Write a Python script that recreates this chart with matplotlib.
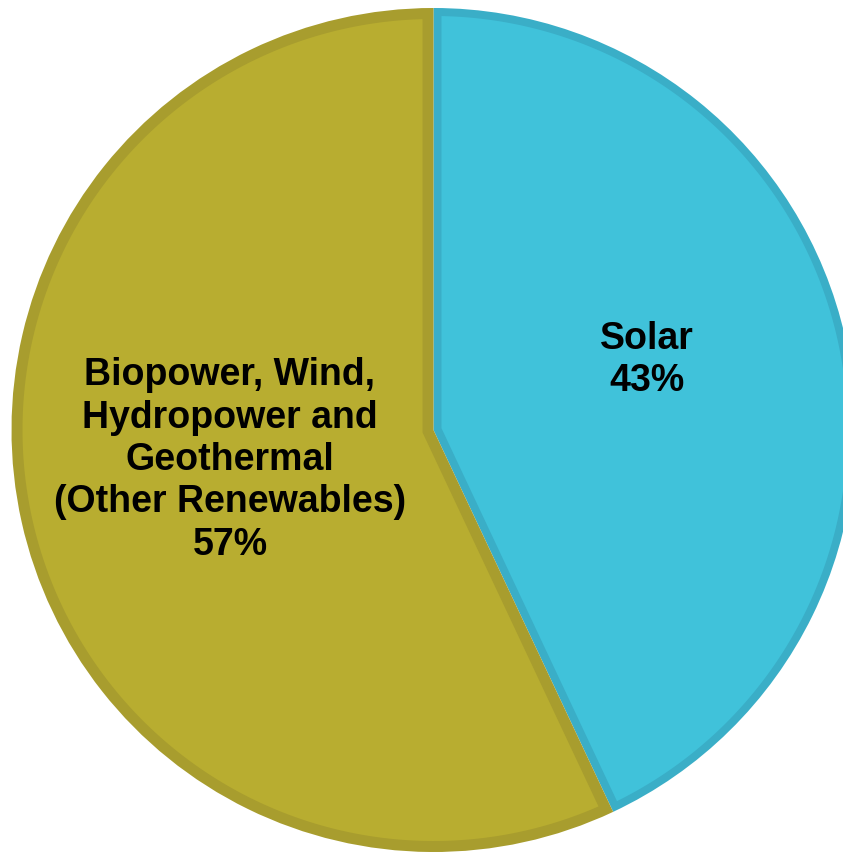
import matplotlib
matplotlib.use('Agg')
import matplotlib.pyplot as plt
import numpy as np
from matplotlib.patches import Polygon, Wedge

# Share of renewable generation
labels = ['Solar', 'Biopower, Wind,\nHydropower and\nGeothermal\n(Other Renewables)']
shares = [43, 57]
fills = ['#40C2DA', '#B8AD30']
edges = ['#3AAEC7', '#A89D2E']
border = [8, 11]  # px, drawn inside each slice

W, H = 843, 853
fig = plt.figure(figsize=(W / 100, H / 100), dpi=100)
ax = fig.add_axes([0, 0, 1, 1])
ax.set_xlim(0, W)
ax.set_ylim(0, H)
ax.set_aspect('equal')
ax.axis('off')

cx, cy, r = 433.5, H - 431, 422


def inset_wedge(t1, t2, b, n=400):
    # slice shrunk by b pixels on the arc and both straight sides
    span = np.radians(t2 - t1)
    mid = np.radians((t1 + t2) / 2)
    apex = b / np.sin(span / 2)
    rr = r - b
    d = np.degrees(np.arcsin(b / rr))
    t = np.radians(np.linspace(t1 + d, t2 - d, n))
    xs = np.r_[cx + apex * np.cos(mid), cx + rr * np.cos(t)]
    ys = np.r_[cy + apex * np.sin(mid), cy + rr * np.sin(t)]
    return np.column_stack([xs, ys])


# slices start at 12 o'clock and run clockwise
start = 90.0
for share, fc, ec, b in zip(shares, fills, edges, border):
    sweep = 360.0 * share / sum(shares)
    t1, t2 = start - sweep, start
    ax.add_patch(Wedge((cx, cy), r, t1, t2, facecolor=ec, edgecolor='none'))
    ax.add_patch(Polygon(inset_wedge(t1, t2, b), closed=True,
                         facecolor=fc, edgecolor='none'))
    start = t1

font = dict(family=['Liberation Sans', 'DejaVu Sans'], fontweight='bold',
            fontsize=27, ha='center', va='center', linespacing=1.23)
ax.text(647, H - 360, f'{labels[0]}\n{shares[0]}%', **font)
ax.text(230, H - 460, f'{labels[1]}\n{shares[1]}%', **font)

fig.savefig('out.png', dpi=100)
